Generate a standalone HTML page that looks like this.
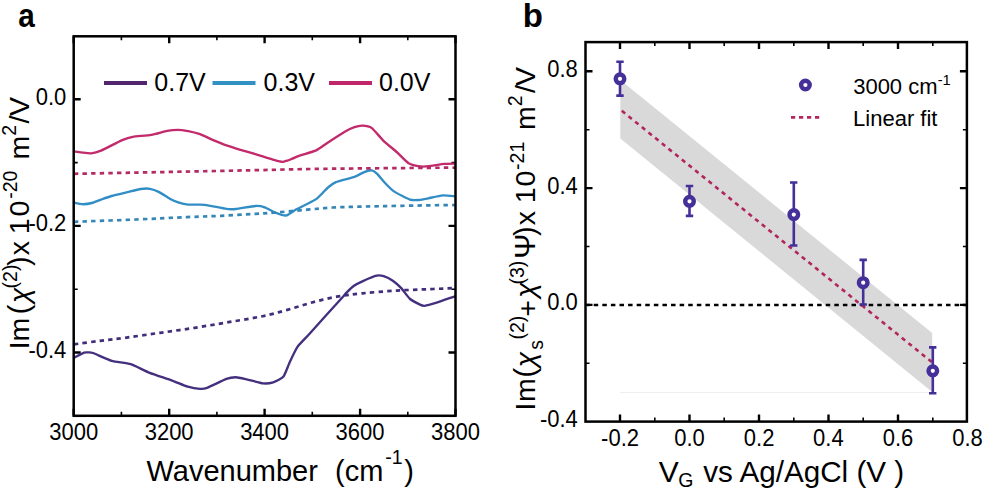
<!DOCTYPE html><html><head><meta charset="utf-8"><style>html,body{margin:0;padding:0;background:#fff;}svg{display:block;}text{font-family:"Liberation Sans",sans-serif;}</style></head><body>
<svg width="988" height="492" viewBox="0 0 988 492">
<rect width="988" height="492" fill="#fff"/>
<path d="M73.7,415.8v-7.0 M73.7,36.3v7.0 M169.2,415.8v-7.0 M169.2,36.3v7.0 M264.6,415.8v-7.0 M264.6,36.3v7.0 M360.1,415.8v-7.0 M360.1,36.3v7.0 M455.5,415.8v-7.0 M455.5,36.3v7.0 M73.7,352.5h7.0 M455.5,352.5h-7.0 M73.7,225.9h7.0 M455.5,225.9h-7.0 M73.7,99.3h7.0 M455.5,99.3h-7.0" stroke="#000" stroke-width="2.4" fill="none"/>
<path d="M121.4,415.8v-4.0 M121.4,36.3v4.0 M216.9,415.8v-4.0 M216.9,36.3v4.0 M312.3,415.8v-4.0 M312.3,36.3v4.0 M407.8,415.8v-4.0 M407.8,36.3v4.0 M73.7,289.2h4.0 M455.5,289.2h-4.0 M73.7,162.6h4.0 M455.5,162.6h-4.0" stroke="#000" stroke-width="1.6" fill="none"/>
<g fill="none" stroke-width="2.35" stroke-linejoin="round" stroke-linecap="round">
<path d="M74.0,151.3 C74.9,151.4 80.9,152.4 82.6,152.6 C84.3,152.8 89.4,153.5 91.2,153.3 C93.0,153.1 99.0,151.5 101.0,150.7 C103.0,149.9 109.5,146.5 111.6,145.4 C113.7,144.3 120.1,141.0 122.2,140.1 C124.3,139.2 129.9,137.3 132.8,136.8 C135.7,136.3 147.9,135.4 151.3,134.8 C154.7,134.2 164.5,131.4 167.1,130.9 C169.7,130.4 175.6,129.8 177.7,129.8 C179.8,129.8 186.0,130.7 188.2,131.1 C190.4,131.5 197.5,133.3 200.0,134.2 C202.5,135.1 210.6,139.0 213.2,140.1 C215.8,141.2 223.8,144.5 226.4,145.4 C229.0,146.3 236.3,148.6 239.6,149.6 C242.9,150.6 256.0,154.3 259.4,155.3 C262.8,156.3 272.0,159.3 274.0,159.9 C276.0,160.5 278.6,161.2 279.5,161.4 C280.4,161.6 282.4,162.0 283.2,161.9 C284.0,161.8 286.6,160.9 287.5,160.6 C288.4,160.3 291.2,159.1 292.5,158.6 C293.8,158.1 298.0,156.1 300.4,155.3 C302.8,154.5 313.4,151.7 316.2,150.4 C319.0,149.1 325.1,144.4 328.0,142.5 C330.9,140.6 342.6,133.0 345.2,131.5 C347.8,130.0 352.7,127.8 354.4,127.2 C356.1,126.6 360.6,125.5 362.3,125.6 C364.0,125.7 369.5,126.4 371.6,127.9 C373.7,129.4 381.0,138.4 383.5,140.8 C386.0,143.2 394.2,149.8 396.7,152.0 C399.2,154.2 406.2,161.8 408.6,163.2 C411.0,164.6 418.3,166.2 420.5,166.5 C422.7,166.8 428.6,166.2 431.0,165.9 C433.4,165.6 441.8,164.1 444.2,163.9 C446.6,163.7 453.9,163.6 455.0,163.6" stroke="#C22A6C"/>
<path d="M74.0,202.6 C74.9,202.8 81.4,204.2 83.2,204.2 C85.0,204.2 90.0,203.5 91.8,203.0 C93.6,202.5 99.0,200.3 101.0,199.6 C103.0,198.9 108.9,196.8 111.6,196.0 C114.2,195.2 124.6,192.8 127.5,192.1 C130.4,191.4 138.4,189.3 140.7,189.0 C142.9,188.7 148.2,188.5 150.0,188.8 C151.8,189.1 157.2,191.1 159.2,192.1 C161.2,193.1 167.8,197.6 169.8,198.7 C171.8,199.8 177.2,202.0 179.0,202.6 C180.8,203.2 186.1,204.4 188.2,204.6 C190.3,204.8 198.0,204.5 200.0,204.6 C202.0,204.7 205.3,204.9 207.9,205.3 C210.5,205.7 223.6,208.5 226.4,208.9 C229.2,209.3 232.8,209.3 235.7,209.0 C238.6,208.7 252.6,206.2 255.5,206.0 C258.4,205.8 262.7,206.6 264.7,207.3 C266.7,208.0 273.2,211.8 275.3,212.6 C277.4,213.4 283.8,215.8 285.9,215.5 C288.0,215.2 293.4,210.9 296.4,209.3 C299.4,207.7 313.0,201.3 316.2,199.1 C319.4,196.9 326.0,189.2 328.0,187.5 C330.0,185.8 333.3,183.3 335.9,182.2 C338.5,181.1 351.6,177.9 354.4,176.9 C357.2,175.9 362.0,173.0 363.7,172.3 C365.4,171.6 370.3,170.2 371.6,170.3 C372.9,170.4 375.6,172.3 376.9,173.6 C378.2,174.8 383.1,181.0 384.8,182.8 C386.5,184.6 391.5,189.7 394.0,191.4 C396.5,193.1 407.4,198.7 409.9,199.6 C412.4,200.5 417.3,200.1 419.2,200.0 C421.1,199.9 426.0,198.8 428.4,198.3 C430.8,197.8 440.2,195.6 442.9,195.4 C445.6,195.2 453.8,196.2 455.0,196.3" stroke="#318DC6"/>
<path d="M74.0,357.8 C75.0,357.3 82.6,353.1 84.1,352.6 C85.5,352.1 87.6,352.4 88.5,352.4 C89.4,352.4 90.7,352.2 93.0,353.0 C95.3,353.8 107.9,359.7 111.7,360.8 C115.5,361.9 126.9,363.0 130.7,364.2 C134.5,365.4 145.5,371.3 149.7,372.9 C153.8,374.5 168.4,379.2 172.2,380.6 C176.0,382.0 184.9,385.9 187.7,386.7 C190.5,387.5 198.1,388.7 200.0,388.8 C201.9,388.9 204.5,388.8 207.1,387.8 C209.7,386.8 223.6,380.0 226.4,378.9 C229.2,377.8 233.6,377.2 235.6,377.2 C237.6,377.2 244.0,378.7 246.7,379.3 C249.4,379.9 260.4,383.0 263.0,383.3 C265.6,383.6 271.2,382.9 273.2,382.3 C275.2,381.7 281.7,378.7 283.3,376.8 C284.9,374.9 288.0,366.0 289.4,363.0 C290.8,360.0 295.6,349.6 297.6,346.7 C299.6,343.8 305.6,338.2 309.8,333.5 C314.0,328.8 336.3,304.1 340.0,300.0 C343.7,295.9 345.6,293.6 347.0,292.2 C348.4,290.8 352.5,286.9 354.0,285.8 C355.5,284.7 360.1,282.3 362.4,281.3 C364.7,280.3 374.5,276.2 376.6,275.7 C378.7,275.2 382.1,275.7 383.7,276.2 C385.3,276.7 391.1,279.6 392.8,280.8 C394.5,282.0 399.3,286.1 401.0,287.9 C402.7,289.7 408.2,297.3 410.1,299.0 C412.0,300.7 418.6,303.9 420.0,304.6 C421.4,305.3 422.9,306.0 424.6,305.8 C426.3,305.6 433.6,303.6 436.6,302.7 C439.6,301.8 453.2,296.9 455.0,296.3" stroke="#44307E"/>
</g><g fill="none" stroke-width="2.7" stroke-dasharray="4.4 4.2">
<path d="M74.0,173.8 C84.3,173.6 115.5,173.0 135.8,172.6 C156.1,172.2 175.8,171.8 195.8,171.4 C215.8,171.0 234.4,170.6 255.8,170.2 C277.2,169.8 291.0,169.2 324.2,168.8 C357.4,168.4 433.2,167.8 455.0,167.6" stroke="#B42A64"/>
<path d="M74.0,221.8 C84.3,221.4 117.0,220.3 135.8,219.5 C154.7,218.7 172.9,217.7 187.1,217.1 C201.3,216.5 209.8,216.3 221.2,215.8 C232.6,215.2 246.8,214.4 255.5,213.9 C264.2,213.4 264.8,213.4 273.4,212.7 C282.0,212.0 297.1,210.6 307.0,209.7 C316.9,208.8 324.2,208.0 332.8,207.5 C341.4,207.0 347.2,207.0 358.6,206.7 C370.1,206.4 385.4,206.1 401.5,205.8 C417.6,205.5 446.1,205.1 455.0,205.0" stroke="#3486B6"/>
<path d="M74.0,344.3 C78.3,343.7 91.2,342.0 100.0,340.9 C108.8,339.8 116.6,339.0 126.6,337.6 C136.6,336.2 148.7,334.4 160.0,332.8 C171.3,331.2 183.2,329.6 194.6,327.8 C206.0,326.0 217.1,324.1 228.4,322.2 C239.7,320.3 252.8,318.2 262.6,316.2 C272.4,314.1 279.1,312.2 287.3,309.9 C295.5,307.6 303.8,304.7 312.0,302.5 C320.2,300.3 328.3,298.2 336.7,296.7 C345.1,295.2 352.6,294.3 362.6,293.3 C372.6,292.3 385.2,291.3 396.6,290.6 C408.0,289.9 421.4,289.5 431.1,289.1 C440.8,288.7 451.0,288.2 455.0,288.0" stroke="#412E7A"/>
</g>
<rect x="73.7" y="36.3" width="381.8" height="379.5" fill="none" stroke="#000" stroke-width="2.5"/>
<g stroke-width="4">
<path d="M104,83H147" stroke="#52266F"/>
<path d="M212.5,83H255.5" stroke="#3291C3"/>
<path d="M329,83H372" stroke="#C0266A"/>
</g>
<text x="154.32" y="90.80" font-family='"Liberation Sans",sans-serif' font-size="25.00">0.7V</text>
<text x="263.62" y="90.80" font-family='"Liberation Sans",sans-serif' font-size="25.00">0.3V</text>
<text x="379.02" y="90.80" font-family='"Liberation Sans",sans-serif' font-size="25.00">0.0V</text>
<text transform="translate(49.24,439.50) scale(1,1.070)" font-size="22">3000</text>
<text transform="translate(144.69,439.50) scale(1,1.070)" font-size="22">3200</text>
<text transform="translate(240.14,439.50) scale(1,1.070)" font-size="22">3400</text>
<text transform="translate(335.59,439.50) scale(1,1.070)" font-size="22">3600</text>
<text transform="translate(431.04,439.50) scale(1,1.070)" font-size="22">3800</text>
<text transform="translate(35.72,104.80) scale(1,1.070)" font-size="22">0.0</text>
<text transform="translate(28.39,231.40) scale(1,1.070)" font-size="22">-0.2</text>
<text transform="translate(28.39,358.00) scale(1,1.070)" font-size="22">-0.4</text>
<g transform="translate(0,500) rotate(-90)"><text x="150.84" y="29.00" font-family='"Liberation Sans",sans-serif' font-size="28.50">I</text><text x="158.47" y="29.00" font-family='"Liberation Sans",sans-serif' font-size="28.50">m</text><text x="185.70" y="29.00" font-family='"Liberation Serif",serif' font-size="29.00">(</text><text x="196.97" y="29.00" font-family='"Liberation Serif",serif' font-size="28.00" font-style="italic">χ</text><text x="211.63" y="16.50" font-family='"Liberation Serif",serif' font-size="19.50">(2)</text><text x="234.14" y="29.00" font-family='"Liberation Serif",serif' font-size="29.00">)</text><text x="244.87" y="29.00" font-family='"Liberation Sans",sans-serif' font-size="28.50">x</text><text x="265.69" y="29.00" font-family='"Liberation Sans",sans-serif' font-size="28.50">1</text><text x="283.57" y="29.00" font-family='"Liberation Sans",sans-serif' font-size="28.50">0</text><text x="301.26" y="16.70" font-family='"Liberation Sans",sans-serif' font-size="19.50">-20</text><text x="340.52" y="29.00" font-family='"Liberation Sans",sans-serif' font-size="28.50">m</text><text x="364.38" y="16.20" font-family='"Liberation Sans",sans-serif' font-size="19.50">2</text><text x="376.44" y="29.00" font-family='"Liberation Sans",sans-serif' font-size="28.50">/</text><text x="384.00" y="29.00" font-family='"Liberation Sans",sans-serif' font-size="28.50">V</text></g>
<text x="146.47" y="480.60" font-family='"Liberation Sans",sans-serif' font-size="29.00">Wavenumber</text>
<text x="335.10" y="480.60" font-family='"Liberation Sans",sans-serif' font-size="29.00">(cm</text>
<text x="385.33" y="463.70" font-family='"Liberation Sans",sans-serif' font-size="19.50">-1</text>
<text x="404.13" y="480.60" font-family='"Liberation Sans",sans-serif' font-size="29.00">)</text>
<text transform="translate(19.2,27.0) scale(0.9,1)" x="-1.14" font-size="33" font-weight="bold">a</text>
<path d="M620.3,80.1 L932.2,333.0 L932.2,392.0 L620.3,138.4 Z" fill="#D9D9D9"/>
<path d="M620,392.5H932" stroke="#EEEEEE" stroke-width="1"/>
<path d="M620.0,421.6v-7.0 M620.0,42.1v7.0 M689.5,421.6v-7.0 M689.5,42.1v7.0 M759.0,421.6v-7.0 M759.0,42.1v7.0 M828.5,421.6v-7.0 M828.5,42.1v7.0 M898.0,421.6v-7.0 M898.0,42.1v7.0 M585.5,304.9h7.0 M966.9,304.9h-7.0 M585.5,188.1h7.0 M966.9,188.1h-7.0 M585.5,71.3h7.0 M966.9,71.3h-7.0" stroke="#000" stroke-width="2.4" fill="none"/>
<path d="M654.8,421.6v-4.0 M654.8,42.1v4.0 M724.2,421.6v-4.0 M724.2,42.1v4.0 M793.8,421.6v-4.0 M793.8,42.1v4.0 M863.2,421.6v-4.0 M863.2,42.1v4.0 M932.8,421.6v-4.0 M932.8,42.1v4.0 M585.5,363.3h4.0 M966.9,363.3h-4.0 M585.5,246.5h4.0 M966.9,246.5h-4.0 M585.5,129.7h4.0 M966.9,129.7h-4.0" stroke="#000" stroke-width="1.6" fill="none"/>
<path d="M587,305H966" stroke="#000" stroke-width="2.6" stroke-dasharray="4.5 4.093" stroke-dashoffset="1.89"/>
<path d="M620.3,109.6 L932.2,362.4" stroke="#B2265E" stroke-width="2.6" stroke-dasharray="4.3 4.28" stroke-dashoffset="6.61"/>
<path d="M620.0,61.7V95.6 M616.3,61.7h7.4 M616.3,95.6h7.4 M689.5,186.0V215.9 M685.8,186.0h7.4 M685.8,215.9h7.4 M793.8,182.5V245.5 M790.0,182.5h7.4 M790.0,245.5h7.4 M863.2,259.9V304.5 M859.5,259.9h7.4 M859.5,304.5h7.4 M932.8,347.4V393.2 M929.0,347.4h7.4 M929.0,393.2h7.4" stroke="#45309A" stroke-width="2.6" fill="none"/>
<circle cx="620.0" cy="78.8" r="4.3" fill="#fff" stroke="#45309A" stroke-width="4.4"/>
<circle cx="689.5" cy="201.3" r="4.3" fill="#fff" stroke="#45309A" stroke-width="4.4"/>
<circle cx="793.8" cy="214.6" r="4.3" fill="#fff" stroke="#45309A" stroke-width="4.4"/>
<circle cx="863.2" cy="282.7" r="4.3" fill="#fff" stroke="#45309A" stroke-width="4.4"/>
<circle cx="932.8" cy="370.8" r="4.3" fill="#fff" stroke="#45309A" stroke-width="4.4"/>
<rect x="585.5" y="42.1" width="381.4" height="379.5" fill="none" stroke="#000" stroke-width="2.5"/>
<circle cx="805.4" cy="85" r="4.3" fill="#fff" stroke="#45309A" stroke-width="4.4"/>
<path d="M791,117.4H820" stroke="#B2265E" stroke-width="2.6" stroke-dasharray="4.2 3.8"/>
<text x="853.16" y="93.80" font-family='"Liberation Sans",sans-serif' font-size="22.00">3000 cm</text>
<text x="937.64" y="84.90" font-family='"Liberation Sans",sans-serif' font-size="14.80">-1</text>
<text x="853.10" y="125.60" font-family='"Liberation Sans",sans-serif' font-size="22.00">Linear fit</text>
<text transform="translate(601.11,445.70) scale(1,1.070)" font-size="22">-0.2</text>
<text transform="translate(674.21,445.70) scale(1,1.070)" font-size="22">0.0</text>
<text transform="translate(743.83,445.70) scale(1,1.070)" font-size="22">0.2</text>
<text transform="translate(813.10,445.70) scale(1,1.070)" font-size="22">0.4</text>
<text transform="translate(882.76,445.70) scale(1,1.070)" font-size="22">0.6</text>
<text transform="translate(952.26,445.70) scale(1,1.070)" font-size="22">0.8</text>
<text transform="translate(547.22,76.80) scale(1,1.070)" font-size="22">0.8</text>
<text transform="translate(547.22,193.60) scale(1,1.070)" font-size="22">0.4</text>
<text transform="translate(547.22,310.40) scale(1,1.070)" font-size="22">0.0</text>
<text transform="translate(539.89,427.20) scale(1,1.070)" font-size="22">-0.4</text>
<text x="658.67" y="481.90" font-family='"Liberation Sans",sans-serif' font-size="30.00">V</text>
<text x="678.22" y="487.00" font-family='"Liberation Sans",sans-serif' font-size="19.50">G</text>
<text x="703.20" y="481.80" font-family='"Liberation Sans",sans-serif' font-size="29.65">vs Ag/AgCl (V )</text>
<g transform="translate(0,500) rotate(-90)"><text x="89.54" y="535.00" font-family='"Liberation Sans",sans-serif' font-size="28.50">I</text><text x="98.02" y="535.00" font-family='"Liberation Sans",sans-serif' font-size="28.50">m</text><text x="122.50" y="535.00" font-family='"Liberation Serif",serif' font-size="29.00">(</text><text x="132.77" y="535.00" font-family='"Liberation Serif",serif' font-size="28.00" font-style="italic">χ</text><text x="150.21" y="543.00" font-family='"Liberation Sans",sans-serif' font-size="19.50">s</text><text x="160.53" y="523.50" font-family='"Liberation Serif",serif' font-size="19.50">(2)</text><text x="183.29" y="536.50" font-family='"Liberation Sans",sans-serif' font-size="28.50">+</text><text x="202.27" y="535.00" font-family='"Liberation Serif",serif' font-size="28.00" font-style="italic">χ</text><text x="215.43" y="523.50" font-family='"Liberation Serif",serif' font-size="19.50">(3)</text><text x="241.28" y="535.00" font-family='"Liberation Serif",serif' font-size="30.00">Ψ</text><text x="264.14" y="535.00" font-family='"Liberation Serif",serif' font-size="29.00">)</text><text x="274.67" y="535.00" font-family='"Liberation Sans",sans-serif' font-size="28.50">x</text><text x="296.69" y="535.00" font-family='"Liberation Sans",sans-serif' font-size="28.50">1</text><text x="313.57" y="535.00" font-family='"Liberation Sans",sans-serif' font-size="28.50">0</text><text x="330.05" y="523.50" font-family='"Liberation Sans",sans-serif' font-size="19.50">-21</text><text x="370.12" y="535.00" font-family='"Liberation Sans",sans-serif' font-size="28.50">m</text><text x="393.68" y="521.50" font-family='"Liberation Sans",sans-serif' font-size="19.50">2</text><text x="407.04" y="535.00" font-family='"Liberation Sans",sans-serif' font-size="28.50">/</text><text x="414.00" y="535.00" font-family='"Liberation Sans",sans-serif' font-size="28.50">V</text></g>
<text x="522.82" y="27.20" font-family='"Liberation Sans",sans-serif' font-size="33.00" font-weight="bold">b</text>
</svg></body></html>
